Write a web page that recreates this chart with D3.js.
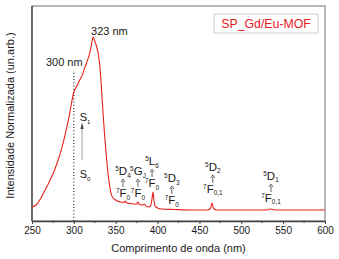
<!DOCTYPE html>
<html>
<head>
<meta charset="utf-8">
<script src="https://cdn.jsdelivr.net/npm/d3@7"></script>
<style>
    body { margin: 0; background: #fff; }
    svg { display: block; font-family: "Liberation Sans", Arial, sans-serif; }
</style>
</head>
<body>
<div id="chart"></div>
<script>
// spectrum
const wavelength = [250, 255, 260, 265, 270, 275, 280, 285, 290, 294, 297, 300, 303, 307, 310, 313, 316, 319, 321, 323,
    325, 327, 329, 331, 333, 335, 337, 339, 341, 343, 345, 348, 352, 356, 360, 361.5, 363, 368, 372, 375, 376.5, 378,
    382, 384, 386, 390, 392, 393.5, 394.5, 395.5, 397, 400, 405, 420, 440, 460, 463.5, 465, 466.5, 470, 500, 530, 535,
    540, 570, 600];
const intensity = [0.076, 0.087, 0.120, 0.163, 0.207, 0.255, 0.315, 0.386, 0.478, 0.560, 0.636, 0.701, 0.728, 0.766,
    0.793, 0.832, 0.870, 0.913, 0.957, 1.0, 0.978, 0.951, 0.913, 0.842, 0.723, 0.576, 0.451, 0.342, 0.250, 0.185,
    0.141, 0.120, 0.109, 0.103, 0.101, 0.109, 0.098, 0.095, 0.092, 0.092, 0.103, 0.090, 0.087, 0.092, 0.082, 0.076,
    0.087, 0.125, 0.158, 0.120, 0.082, 0.071, 0.065, 0.0625, 0.060, 0.060, 0.071, 0.098, 0.071, 0.060, 0.060, 0.060,
    0.065, 0.060, 0.060, 0.060];

const xTicks = [250, 300, 350, 400, 450, 500, 550, 600];
const xMinorTicks = [275, 325, 375, 425, 475, 525, 575];

// Eu3+ transitions: upper term, lower term subscript, wavelength, label level
const transUpper = [["5", "D", "4"], ["5", "G", "J"], ["5", "L", "6"], ["5", "D", "3"], ["5", "D", "2"], ["5", "D", "1"]];
const transLower = ["0", "0", "0", "0", "0,1", "0,1"];
const transNm = [358.7, 376.6, 393.4, 417, 466, 535.5];
const transLevel = [0.250, 0.250, 0.304, 0.212, 0.272, 0.223];

const width = 339;
const height = 259;
const plotLeft = 32, plotRight = 325, plotTop = 6, plotBottom = 221;

const svg = d3.select("#chart")
    .append("svg")
    .attr("width", width)
    .attr("height", height);

const xScale = d3.scaleLinear().domain([250, 600]).range([plotLeft, plotRight]);
const yScale = d3.scaleLinear().domain([0, 1.1685]).range([plotBottom, plotTop]);

// frame
svg.append("rect")
    .attr("x", plotLeft)
    .attr("y", plotTop)
    .attr("width", plotRight - plotLeft)
    .attr("height", plotBottom - plotTop)
    .attr("fill", "none")
    .attr("stroke", "#8a8a8a")
    .attr("stroke-width", 1.2);

svg.append("line")
    .attr("x1", plotLeft).attr("x2", plotLeft)
    .attr("y1", plotTop).attr("y2", plotBottom)
    .attr("stroke", "#444").attr("stroke-width", 1.3);

// x axis
const xAxis = svg.append("g")
    .attr("transform", `translate(0, ${plotBottom})`)
    .call(d3.axisBottom(xScale).tickValues(xTicks).tickSize(3).tickSizeOuter(0).tickPadding(3));
xAxis.select(".domain").attr("stroke", "#444").attr("stroke-width", 1.5);
xAxis.selectAll(".tick line").attr("stroke", "#444");
xAxis.selectAll(".tick text")
    .attr("font-size", "10px")
    .attr("fill", "#1a1a1a")
    .attr("font-family", "Liberation Sans, Arial, sans-serif");

svg.append("g")
    .selectAll("line")
    .data(xMinorTicks)
    .join("line")
    .attr("x1", d => xScale(d)).attr("x2", d => xScale(d))
    .attr("y1", plotBottom).attr("y2", plotBottom + 2)
    .attr("stroke", "#444");

// axis titles
svg.append("text")
    .attr("x", (plotLeft + plotRight) / 2)
    .attr("y", 252)
    .attr("text-anchor", "middle")
    .attr("font-size", "11px")
    .attr("fill", "#1a1a1a")
    .text("Comprimento de onda (nm)");

svg.append("text")
    .attr("transform", `translate(14, ${(plotTop + plotBottom) / 2 + 2}) rotate(-90)`)
    .attr("text-anchor", "middle")
    .attr("font-size", "11px")
    .attr("fill", "#1a1a1a")
    .text("Intensidade Normalizada (un.arb.)");

// dotted 300 nm marker
svg.append("line")
    .attr("x1", xScale(300)).attr("x2", xScale(300))
    .attr("y1", yScale(0.806)).attr("y2", plotBottom)
    .attr("stroke", "#111")
    .attr("stroke-width", 1.1)
    .attr("stroke-dasharray", "1,2.2");

// spectrum line
const line = d3.line()
    .x(d => xScale(d[0]))
    .y(d => yScale(d[1]))
    .curve(d3.curveMonotoneX);

svg.append("path")
    .datum(wavelength.map((w, i) => [w, intensity[i]]))
    .attr("fill", "none")
    .attr("stroke", "#e4221b")
    .attr("stroke-width", 1.1)
    .attr("d", line);

// peak labels
svg.append("text")
    .attr("x", xScale(320.5))
    .attr("y", yScale(1.032) + 4)
    .attr("font-size", "11px")
    .attr("fill", "#1a1a1a")
    .text("323 nm");

svg.append("text")
    .attr("x", xScale(310.5))
    .attr("y", yScale(0.84))
    .attr("text-anchor", "end")
    .attr("font-size", "11px")
    .attr("fill", "#1a1a1a")
    .text("300 nm");

// legend
svg.append("rect")
    .attr("x", 214).attr("y", 14)
    .attr("width", 104).attr("height", 19)
    .attr("fill", "#fff")
    .attr("stroke", "#cfcfcf");
svg.append("text")
    .attr("x", 266).attr("y", 28)
    .attr("text-anchor", "middle")
    .attr("font-size", "12.3px")
    .attr("fill", "#e4221b")
    .text("SP_Gd/Eu-MOF");

// term symbol with left superscript and right subscript
function term(x, y, sup, letter, sub, size) {
    const t = svg.append("text")
        .attr("x", x)
        .attr("y", y)
        .attr("text-anchor", "middle")
        .attr("font-size", size + "px")
        .attr("fill", "#1a1a1a");
    t.append("tspan").attr("font-size", (size * 0.56) + "px").attr("dy", -size * 0.38).text(sup);
    t.append("tspan").attr("dy", size * 0.38).text(letter);
    t.append("tspan").attr("font-size", (size * 0.56) + "px").attr("dy", size * 0.22).text(sub);
    return t;
}

function arrow(x, y1, y2) {
    svg.append("line")
        .attr("x1", x).attr("x2", x)
        .attr("y1", y1).attr("y2", y2 + 2)
        .attr("stroke", "#222").attr("stroke-width", 0.7);
    svg.append("path")
        .attr("d", `M${x - 2},${y2 + 3} L${x},${y2} L${x + 2},${y2 + 3}`)
        .attr("fill", "none")
        .attr("stroke", "#222")
        .attr("stroke-width", 0.7);
}

// S0 -> S1
const sx = xScale(311);
term(sx + 2, yScale(0.565), "", "S", "1", 11);
term(sx + 2, yScale(0.255), "", "S", "0", 11);
svg.append("line")
    .attr("x1", sx - 1).attr("x2", sx - 1)
    .attr("y1", yScale(0.33)).attr("y2", yScale(0.52))
    .attr("stroke", "#888").attr("stroke-width", 0.8);
svg.append("path")
    .attr("d", `M${sx - 2.6},${yScale(0.5)} L${sx - 1},${yScale(0.535)} L${sx + 0.6},${yScale(0.5)} Z`)
    .attr("fill", "#444");

// Eu3+ transitions
for (let i = 0; i < transNm.length; i++) {
    const x = xScale(transNm[i]);
    const yb = yScale(transLevel[i]);
    term(x, yb, transUpper[i][0], transUpper[i][1], transUpper[i][2], 11.5);
    arrow(x, yb + 12, yb + 4);
    term(x, yb + 22, "7", "F", transLower[i], 11.5);
}
</script>
</body>
</html>
